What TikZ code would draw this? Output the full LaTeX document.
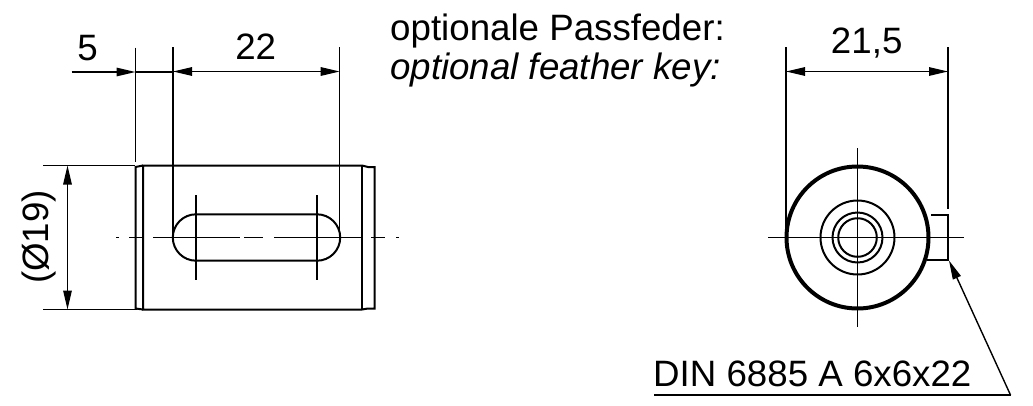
\documentclass[tikz,border=0pt]{standalone}
\usepackage{fontspec}
\setmainfont{Liberation Sans}
\usetikzlibrary{arrows.meta}
\tikzset{
  thin line/.style={line width=1.4pt,black},
  body line/.style={line width=2pt,black},
  heavy line/.style={line width=4pt,black},
  dim/.style={thin line,{Triangle[length=19pt,width=8.5pt]}-{Triangle[length=19pt,width=8.5pt]}},
  dimend/.style={thin line,-{Triangle[length=19pt,width=8.5pt]}},
  lbl/.style={inner sep=0pt,anchor=base,font=\fontsize{36.7}{36}\selectfont},
  lblw/.style={inner sep=0pt,anchor=base west,font=\fontsize{36.7}{36}\selectfont},
}
\begin{document}
\begin{tikzpicture}[x=1pt,y=-1pt]
\useasboundingbox (0,0) rectangle (1033,405);
% ---- labels
\node[lbl] (l5) at (87.5,60) {5};
\node[lbl] (l22) at (255.7,59.5) {22};
\node[lbl] (l215) at (866.7,53) {21,5};
\node[lblw] (tde) at (390,40) {optionale Passfeder:};
\node[lblw,font=\fontsize{36.7}{36}\selectfont\itshape] (ten) at (390,79.5) {optional feather key:};
\node[lbl,rotate=90,anchor=base] (ldia) at (48,237) {(Ø19)};
\node[lbl,anchor=base west] (din) at (653,386) {DIN 6885 A 6x6x22};
% ---- left view, body
\draw[body line] (143,165.5) -- (362,165.5) -- (368,167) -- (374.5,167) -- (374.5,308.5) -- (368,308.5) -- (362,309.5) -- (143,309.5) -- cycle;
\draw[body line] (143,309.5) -- (135.5,308.5) -- (135.5,167) -- (143,165.5);
\draw[body line] (362.3,165.5) -- (362.3,309.5);
% slot
\draw[body line] (196,214.3) -- (317,214.3) arc[start angle=-90,end angle=90,radius=23.2] -- (196,260.7) arc[start angle=90,end angle=270,radius=23.2] -- cycle;
\draw[thin line] (196,195) -- (196,280) (317,195) -- (317,280);
% centre line
\draw[thin line] (116,237.5) -- (119,237.5) (129,237.5) -- (143,237.5) (153,237.5) -- (240,237.5) (244,237.5) -- (263,237.5) (274,237.5) -- (363,237.5) (371,237.5) -- (385,237.5) (396,237.5) -- (399,237.5);
% ---- left view, dimensions
\coordinate (e5t) at (135.5,47.5);
\coordinate (e5b) at (135.5,162);
\coordinate (e22at) at (173,47);
\coordinate (e22ab) at (173,237);
\coordinate (e22bt) at (339.7,47);
\coordinate (e22bb) at (339.7,237);
\draw[thin line] (e5t) -- (e5b);
\draw[thin line] (e22at) -- (e22ab);
\draw[thin line] (e22bt) -- (e22bb);
\coordinate (d5s) at (71.5,72);
\coordinate (d5e) at (135.5,72);
\coordinate (d5f) at (173,72);
\coordinate (d22a) at (173,71.5);
\coordinate (d22b) at (339.7,71.5);
\draw[dimend] (d5s) -- (d5e);
\draw[thin line] (d5e) -- (d5f);
\draw[dim] (d22a) -- (d22b);
\coordinate (etl) at (43,165.5);
\coordinate (etr) at (135,165.5);
\coordinate (ebl) at (43,309.5);
\coordinate (ebr) at (137,309.5);
\draw[thin line] (etl) -- (etr);
\draw[thin line] (ebl) -- (ebr);
\coordinate (dt) at (67.5,165.5);
\coordinate (db) at (67.5,309.5);
\draw[dim] (dt) -- (db);
% ---- right view
\coordinate (c) at (857.5,237.5);
\draw[body line] (931,215) -- (948,215) -- (948,260) -- (927,260);
\draw[heavy line,fill=white] (c) circle[radius=71];
\draw[body line] (c) circle[radius=37];
\draw[body line] (c) circle[radius=25];
\draw[body line] (c) circle[radius=19.3];
\draw[thin line] (768,237.5) -- (964,237.5) (857.5,148) -- (857.5,327);
\coordinate (e1t) at (786,47);
\coordinate (e1b) at (786,237);
\coordinate (e2t) at (948,47);
\coordinate (e2b) at (948,209);
\draw[thin line] (e1t) -- (e1b);
\draw[thin line] (e2t) -- (e2b);
\coordinate (d1) at (786,71.5);
\coordinate (d2) at (948,71.5);
\draw[dim] (d1) -- (d2);
% ---- leader
\coordinate (ls) at (654,395);
\coordinate (lk) at (1010.5,395);
\coordinate (lt) at (949,260.5);
\draw[thin line] (ls) -- (lk);
\draw[dimend] (lk) -- (lt);
\end{tikzpicture}
\end{document}
